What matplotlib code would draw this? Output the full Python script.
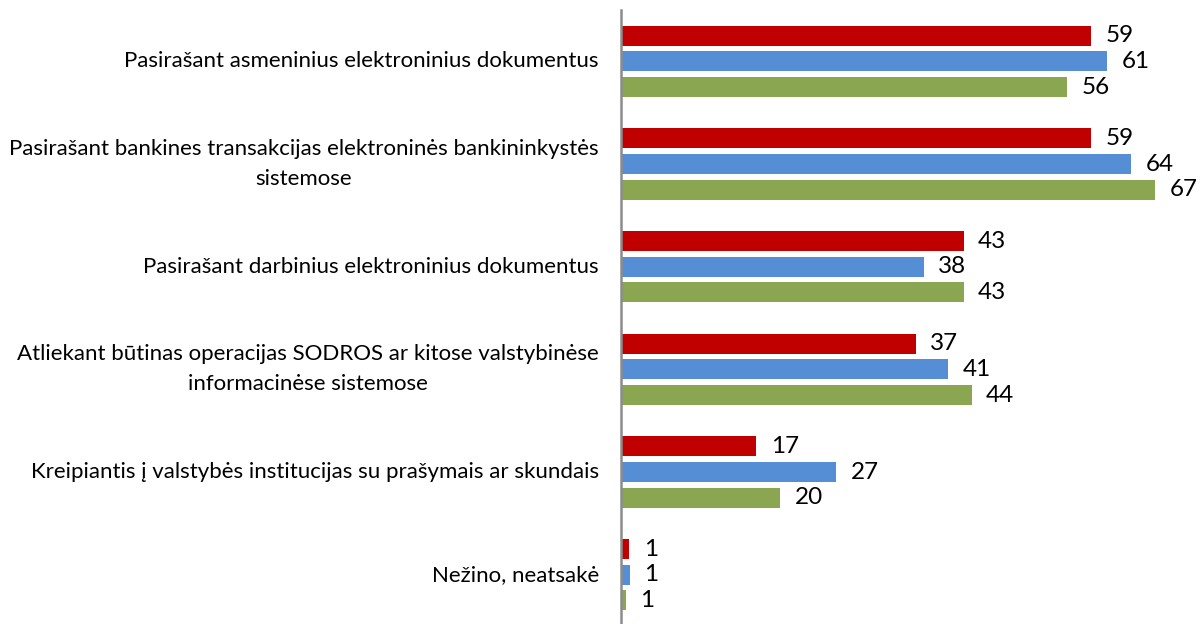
import matplotlib.pyplot as plt
import numpy as np

categories = [
    'Pasirašant asmeninius elektroninius dokumentus',
    'Pasirašant bankines transakcijas elektroninės bankininkystės\nsistemose',
    'Pasirašant darbinius elektroninius dokumentus',
    'Atliekant būtinas operacijas SODROS ar kitose valstybinėse\ninformacinėse sistemose',
    'Kreipiantis į valstybės institucijas su prašymais ar skundais',
    'Nežino, neatsakė',
]
red_vals = [59, 59, 43, 37, 17, 1]
blue_vals = [61, 64, 38, 41, 27, 1.1]
green_vals = [56, 67, 43, 44, 20, 0.6]
series = [red_vals, blue_vals, green_vals]
colors = ['#C00000', '#558ED5', '#8BA650']

plt.rcParams['font.family'] = ['Lato', 'DejaVu Sans']

fig = plt.figure(figsize=(12.01, 6.24), dpi=100)
ax = fig.add_axes([621 / 1201, 0, 1 - 621 / 1201, 1 - 10 / 624])

y = np.arange(len(categories))
offsets = [-0.25, 0, 0.25]
for vals, off, c in zip(series, offsets, colors):
    bars = ax.barh(y + off, vals, height=0.195, color=c)
    for b, v in zip(bars, vals):
        ax.annotate('%d' % round(v), (b.get_width(), b.get_y() + b.get_height() / 2),
                    xytext=(10.5, 0), textcoords='offset points',
                    va='center', ha='left', fontsize=17.5)

# category labels drawn as text so multi-line ones centre properly
for yi, cat in zip(y, categories):
    ax.annotate(cat, (0, yi), xycoords=ax.get_yaxis_transform(),
                xytext=(-16, 0), textcoords='offset points',
                ha='right', va='center', ma='center', linespacing=1.62,
                fontsize=16, annotation_clip=False)

ax.set_xlim(0, 72.8)
ax.set_ylim(5.48, -0.5)
ax.set_yticks([])
ax.set_xticks([])
for s in ['top', 'right', 'bottom']:
    ax.spines[s].set_visible(False)
ax.spines['left'].set_color('#8c8c8c')
ax.spines['left'].set_linewidth(1.8)

fig.savefig('out.png', dpi=100)
